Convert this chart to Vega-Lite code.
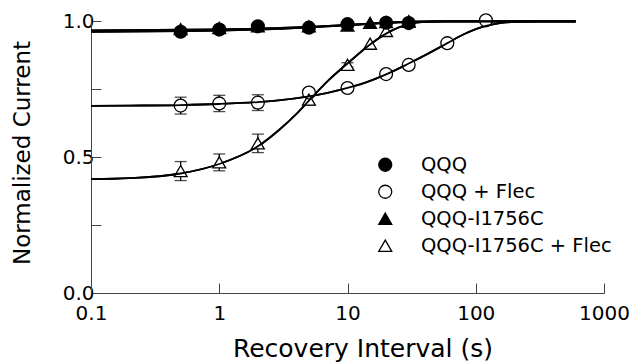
{
  "$schema": "https://vega.github.io/schema/vega-lite/v6.json",
  "width": 513,
  "height": 277,
  "autosize": {"type": "none"},
  "padding": {"left": 91, "top": 16, "right": 26, "bottom": 71},
  "background": "white",
  "config": {"view": {"stroke": null}, "font": "DejaVu Sans"},
  "datasets": {
    "pts": [
      {"series": "QQQ-I1756C", "t": 0.5, "y": 0.972},
      {"series": "QQQ-I1756C", "t": 1, "y": 0.976},
      {"series": "QQQ-I1756C", "t": 2, "y": 0.982},
      {"series": "QQQ-I1756C", "t": 5, "y": 0.982},
      {"series": "QQQ-I1756C", "t": 10, "y": 0.985},
      {"series": "QQQ-I1756C", "t": 15, "y": 0.995},
      {"series": "QQQ-I1756C", "t": 20, "y": 0.998},
      {"series": "QQQ-I1756C", "t": 30, "y": 1.0},
      {"series": "QQQ", "t": 0.5, "y": 0.962},
      {"series": "QQQ", "t": 1, "y": 0.970},
      {"series": "QQQ", "t": 2, "y": 0.982},
      {"series": "QQQ", "t": 5, "y": 0.977},
      {"series": "QQQ", "t": 10, "y": 0.99},
      {"series": "QQQ", "t": 20, "y": 0.995},
      {"series": "QQQ", "t": 30, "y": 0.994},
      {"series": "QQQ + Flec", "t": 0.5, "y": 0.690, "lo": 0.659, "hi": 0.721},
      {"series": "QQQ + Flec", "t": 1, "y": 0.698, "lo": 0.668, "hi": 0.728},
      {"series": "QQQ + Flec", "t": 2, "y": 0.701, "lo": 0.672, "hi": 0.730},
      {"series": "QQQ + Flec", "t": 5, "y": 0.738, "lo": 0.726, "hi": 0.750},
      {"series": "QQQ + Flec", "t": 10, "y": 0.755},
      {"series": "QQQ + Flec", "t": 20, "y": 0.806},
      {"series": "QQQ + Flec", "t": 30, "y": 0.840},
      {"series": "QQQ + Flec", "t": 60, "y": 0.920},
      {"series": "QQQ + Flec", "t": 120, "y": 1.004},
      {"series": "QQQ-I1756C + Flec", "t": 0.5, "y": 0.449, "lo": 0.414, "hi": 0.484},
      {"series": "QQQ-I1756C + Flec", "t": 1, "y": 0.481, "lo": 0.450, "hi": 0.512},
      {"series": "QQQ-I1756C + Flec", "t": 2, "y": 0.551, "lo": 0.517, "hi": 0.585},
      {"series": "QQQ-I1756C + Flec", "t": 5, "y": 0.712, "lo": 0.692, "hi": 0.732},
      {"series": "QQQ-I1756C + Flec", "t": 10, "y": 0.840, "lo": 0.832, "hi": 0.848},
      {"series": "QQQ-I1756C + Flec", "t": 15, "y": 0.918},
      {"series": "QQQ-I1756C + Flec", "t": 20, "y": 0.965},
      {"series": "QQQ-I1756C + Flec", "t": 30, "y": 1.0}
    ],
    "fits": [
      {"curve": "QQQ", "t": 0.1, "y": 0.962},
      {"curve": "QQQ", "t": 0.5, "y": 0.964},
      {"curve": "QQQ", "t": 1, "y": 0.966},
      {"curve": "QQQ", "t": 2, "y": 0.970},
      {"curve": "QQQ", "t": 3, "y": 0.973},
      {"curve": "QQQ", "t": 5, "y": 0.978},
      {"curve": "QQQ", "t": 7, "y": 0.982},
      {"curve": "QQQ", "t": 10, "y": 0.986},
      {"curve": "QQQ", "t": 15, "y": 0.991},
      {"curve": "QQQ", "t": 20, "y": 0.995},
      {"curve": "QQQ", "t": 30, "y": 0.998},
      {"curve": "QQQ", "t": 50, "y": 1.0},
      {"curve": "QQQ", "t": 600, "y": 1.0},
      {"curve": "QQQ-I1756C", "t": 0.1, "y": 0.967},
      {"curve": "QQQ-I1756C", "t": 1, "y": 0.971},
      {"curve": "QQQ-I1756C", "t": 3, "y": 0.976},
      {"curve": "QQQ-I1756C", "t": 5, "y": 0.980},
      {"curve": "QQQ-I1756C", "t": 10, "y": 0.987},
      {"curve": "QQQ-I1756C", "t": 20, "y": 0.995},
      {"curve": "QQQ-I1756C", "t": 30, "y": 0.999},
      {"curve": "QQQ-I1756C", "t": 50, "y": 1.0},
      {"curve": "QQQ-I1756C", "t": 600, "y": 1.0},
      {"curve": "QQQ + Flec", "t": 0.1, "y": 0.689},
      {"curve": "QQQ + Flec", "t": 0.2, "y": 0.690},
      {"curve": "QQQ + Flec", "t": 0.5, "y": 0.692},
      {"curve": "QQQ + Flec", "t": 1, "y": 0.696},
      {"curve": "QQQ + Flec", "t": 2, "y": 0.703},
      {"curve": "QQQ + Flec", "t": 3, "y": 0.710},
      {"curve": "QQQ + Flec", "t": 5, "y": 0.724},
      {"curve": "QQQ + Flec", "t": 7, "y": 0.737},
      {"curve": "QQQ + Flec", "t": 10, "y": 0.755},
      {"curve": "QQQ + Flec", "t": 15, "y": 0.781},
      {"curve": "QQQ + Flec", "t": 20, "y": 0.805},
      {"curve": "QQQ + Flec", "t": 30, "y": 0.845},
      {"curve": "QQQ + Flec", "t": 40, "y": 0.875},
      {"curve": "QQQ + Flec", "t": 60, "y": 0.920},
      {"curve": "QQQ + Flec", "t": 80, "y": 0.952},
      {"curve": "QQQ + Flec", "t": 100, "y": 0.972},
      {"curve": "QQQ + Flec", "t": 120, "y": 0.984},
      {"curve": "QQQ + Flec", "t": 150, "y": 0.993},
      {"curve": "QQQ + Flec", "t": 200, "y": 0.998},
      {"curve": "QQQ + Flec", "t": 300, "y": 1.0},
      {"curve": "QQQ + Flec", "t": 600, "y": 1.0},
      {"curve": "QQQ-I1756C + Flec", "t": 0.1, "y": 0.419},
      {"curve": "QQQ-I1756C + Flec", "t": 0.2, "y": 0.423},
      {"curve": "QQQ-I1756C + Flec", "t": 0.5, "y": 0.440},
      {"curve": "QQQ-I1756C + Flec", "t": 1, "y": 0.475},
      {"curve": "QQQ-I1756C + Flec", "t": 2, "y": 0.540},
      {"curve": "QQQ-I1756C + Flec", "t": 3, "y": 0.605},
      {"curve": "QQQ-I1756C + Flec", "t": 4, "y": 0.660},
      {"curve": "QQQ-I1756C + Flec", "t": 5, "y": 0.708},
      {"curve": "QQQ-I1756C + Flec", "t": 7, "y": 0.780},
      {"curve": "QQQ-I1756C + Flec", "t": 10, "y": 0.845},
      {"curve": "QQQ-I1756C + Flec", "t": 15, "y": 0.915},
      {"curve": "QQQ-I1756C + Flec", "t": 20, "y": 0.955},
      {"curve": "QQQ-I1756C + Flec", "t": 30, "y": 0.990},
      {"curve": "QQQ-I1756C + Flec", "t": 40, "y": 0.998},
      {"curve": "QQQ-I1756C + Flec", "t": 60, "y": 1.0},
      {"curve": "QQQ-I1756C + Flec", "t": 600, "y": 1.0}
    ]
  },
  "encoding": {
    "x": {
      "field": "t",
      "type": "quantitative",
      "scale": {"type": "log", "domain": [0.1, 1000]},
      "axis": {
        "values": [0.1, 1, 10, 100, 1000],
        "labelExpr": "datum.value < 1 ? '0.1' : format(datum.value, 'd')",
        "tickSize": -10,
        "domainColor": "#444",
        "tickColor": "#444",
        "labelFontSize": 20,
        "labelColor": "black",
        "labelPadding": 20,
        "labelFlush": false,
        "labelOverlap": false,
        "grid": false,
        "title": "Recovery Interval (s)",
        "titleFontSize": 25,
        "titleFontWeight": "normal",
        "titleColor": "black",
        "titleX": 271.5,
        "titleY": 63.5,
        "titleBaseline": "alphabetic",
        "titleAlign": "center"
      }
    }
  },
  "layer": [
    {
      "data": {"name": "fits"},
      "mark": {"type": "line", "color": "black", "strokeWidth": 1.8, "interpolate": "monotone"},
      "encoding": {
        "y": {
          "field": "y",
          "type": "quantitative",
          "scale": {"domain": [0, 1.02], "nice": false, "zero": false},
          "axis": {
            "values": [0, 0.25, 0.5, 0.75, 1],
            "labelExpr": "(datum.value == 0.25 || datum.value == 0.75) ? '' : format(datum.value, '.1f')",
            "tickSize": -10,
            "domainColor": "#444",
            "tickColor": "#444",
            "labelFontSize": 20,
            "labelColor": "black",
            "labelPadding": 7,
            "labelFlush": false,
            "labelOverlap": false,
            "grid": false,
            "title": "Normalized Current",
            "titleFontSize": 23,
            "titleFontWeight": "normal",
            "titleColor": "black",
            "titleX": -61.6,
            "titleY": 136.5,
            "titleBaseline": "alphabetic",
            "titleAlign": "center"
          }
        },
        "detail": {"field": "curve"}
      }
    },
    {
      "data": {"name": "pts"},
      "transform": [{"filter": "isValid(datum.lo)"}],
      "mark": {"type": "rule", "color": "black", "strokeWidth": 1.3},
      "encoding": {
        "y": {"field": "lo", "type": "quantitative"},
        "y2": {"field": "hi"}
      }
    },
    {
      "data": {"name": "pts"},
      "transform": [{"filter": "isValid(datum.lo)"}],
      "mark": {"type": "tick", "orient": "horizontal", "color": "black", "size": 12, "thickness": 1.3},
      "encoding": {"y": {"field": "lo", "type": "quantitative"}}
    },
    {
      "data": {"name": "pts"},
      "transform": [{"filter": "isValid(datum.lo)"}],
      "mark": {"type": "tick", "orient": "horizontal", "color": "black", "size": 12, "thickness": 1.3},
      "encoding": {"y": {"field": "hi", "type": "quantitative"}}
    },
    {
      "data": {"name": "pts"},
      "transform": [{"filter": "datum.series == 'QQQ + Flec'"}],
      "mark": {"type": "point", "shape": "circle", "filled": true, "fill": "white", "strokeWidth": 0, "size": 150, "opacity": 1},
      "encoding": {"y": {"field": "y", "type": "quantitative"}}
    },
    {
      "data": {"name": "pts"},
      "transform": [{"filter": "datum.series == 'QQQ-I1756C + Flec'"}],
      "mark": {"type": "point", "shape": "triangle-up", "filled": true, "fill": "white", "strokeWidth": 0, "size": 150, "opacity": 1},
      "encoding": {"y": {"field": "y", "type": "quantitative"}}
    },
    {
      "data": {"name": "fits"},
      "mark": {"type": "line", "color": "black", "strokeWidth": 1.8, "interpolate": "monotone"},
      "encoding": {
        "y": {"field": "y", "type": "quantitative"},
        "detail": {"field": "curve"}
      }
    },
    {
      "data": {"name": "pts"},
      "mark": {"type": "point", "strokeWidth": 1.3, "size": 165, "opacity": 1, "fillOpacity": 1, "strokeOpacity": 1},
      "encoding": {
        "y": {"field": "y", "type": "quantitative"},
        "shape": {
          "field": "series",
          "type": "nominal",
          "scale": {
            "domain": ["QQQ", "QQQ + Flec", "QQQ-I1756C", "QQQ-I1756C + Flec"],
            "range": ["circle", "circle", "triangle-up", "triangle-up"]
          },
          "legend": {
            "orient": "none", "legendX": 284.5, "legendY": 139, "title": null,
            "labelFontSize": 19.5, "labelFont": "DejaVu Sans", "labelColor": "black", "labelLimit": 0,
            "symbolSize": 169, "symbolStrokeWidth": 1.3,
            "labelOffset": 26, "rowPadding": 6
          }
        },
        "fill": {
          "field": "series",
          "type": "nominal",
          "scale": {
            "domain": ["QQQ", "QQQ + Flec", "QQQ-I1756C", "QQQ-I1756C + Flec"],
            "range": ["black", "transparent", "black", "transparent"]
          },
          "legend": {
            "orient": "none", "legendX": 284.5, "legendY": 139, "title": null,
            "labelFontSize": 19.5, "labelFont": "DejaVu Sans", "labelColor": "black", "labelLimit": 0,
            "symbolSize": 169, "symbolStrokeWidth": 1.3,
            "labelOffset": 26, "rowPadding": 6
          }
        },
        "stroke": {
          "field": "series",
          "type": "nominal",
          "scale": {
            "domain": ["QQQ", "QQQ + Flec", "QQQ-I1756C", "QQQ-I1756C + Flec"],
            "range": ["black", "black", "black", "black"]
          },
          "legend": {
            "orient": "none", "legendX": 284.5, "legendY": 139, "title": null,
            "labelFontSize": 19.5, "labelFont": "DejaVu Sans", "labelColor": "black", "labelLimit": 0,
            "symbolSize": 169, "symbolStrokeWidth": 1.3,
            "labelOffset": 26, "rowPadding": 6
          }
        }
      }
    }
  ]
}
